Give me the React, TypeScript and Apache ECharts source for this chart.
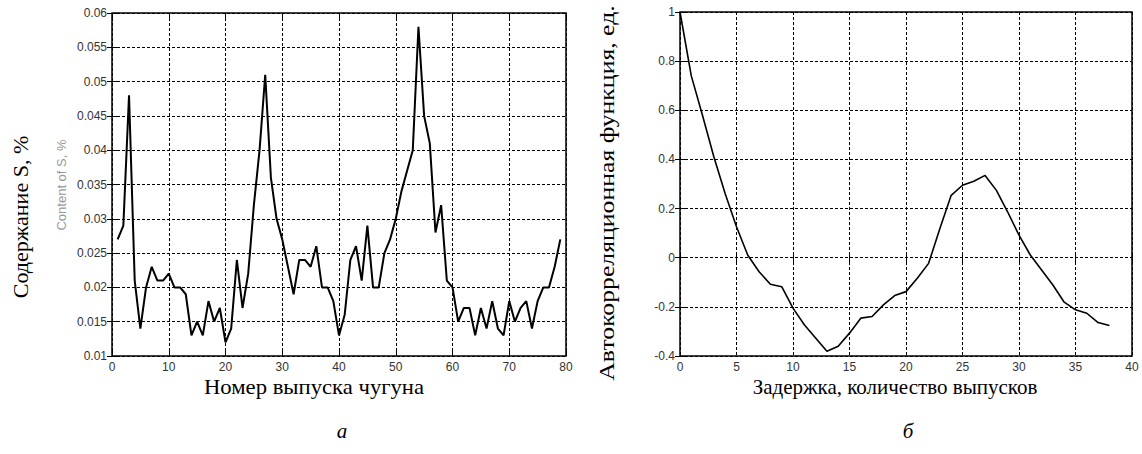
import React, { useEffect, useRef } from "react";
import * as echarts from "echarts";

// Left panel: sulfur content per hot-metal tap (taps 1..79)
const sulfurContent = [
  0.027, 0.029, 0.048, 0.021, 0.014, 0.020, 0.023, 0.021, 0.021, 0.022,
  0.020, 0.020, 0.019, 0.013, 0.015, 0.013, 0.018, 0.015, 0.017, 0.012,
  0.014, 0.024, 0.017, 0.022, 0.032, 0.040, 0.051, 0.036, 0.030, 0.027,
  0.023, 0.019, 0.024, 0.024, 0.023, 0.026, 0.020, 0.020, 0.018, 0.013,
  0.016, 0.024, 0.026, 0.021, 0.029, 0.020, 0.020, 0.025, 0.027, 0.030,
  0.034, 0.037, 0.040, 0.058, 0.045, 0.041, 0.028, 0.032, 0.021, 0.020,
  0.015, 0.017, 0.017, 0.013, 0.017, 0.014, 0.018, 0.014, 0.013, 0.018,
  0.015, 0.017, 0.018, 0.014, 0.018, 0.020, 0.020, 0.023, 0.027,
];

// Right panel: autocorrelation function for lags 0..38
const autocorrelation = [
  1.0, 0.74, 0.578, 0.41, 0.26, 0.126, 0.01, -0.057, -0.108, -0.118,
  -0.205, -0.273, -0.327, -0.381, -0.36, -0.307, -0.246, -0.239, -0.192, -0.154,
  -0.138, -0.084, -0.023, 0.119, 0.254, 0.295, 0.311, 0.335, 0.274, 0.186,
  0.092, 0.011, -0.05, -0.111, -0.181, -0.212, -0.226, -0.264, -0.276,
];

const leftYLabel = "Содержание S, %";
const leftXLabel = "Номер выпуска чугуна";
const rightYLabel = "Автокорреляционная функция, ед.";
const rightXLabel = "Задержка, количество выпусков";
const leftMark = "а";
const rightMark = "б";
const ghostLabel = "Content of S, %";

const tickFont = "Liberation Sans";
const serifFont = "Liberation Serif";

function fmt(v: number) {
  return String(Number(v.toFixed(3)));
}

export default function App() {
  const ref = useRef<HTMLDivElement>(null);

  useEffect(() => {
    document.body.style.margin = "0";
    const chart = echarts.init(ref.current!, null, { renderer: "svg" });

    const gridStyle = {
      show: true,
      borderColor: "#000",
      borderWidth: 1.5,
      backgroundColor: "#fff",
    };
    const split = { show: true, lineStyle: { color: "#000", width: 1, type: [3, 2] as any } };
    const tickIn = { show: true, inside: true, length: 5, lineStyle: { color: "#000", width: 1 } };
    const lbl = { color: "#333", fontSize: 12, fontFamily: tickFont };

    const mainX = (gi: number, max: number, interval: number) => ({
      type: "value" as const,
      gridIndex: gi,
      min: 0,
      max,
      interval,
      axisLine: { show: false },
      axisTick: tickIn,
      axisLabel: { ...lbl, margin: 5 },
      splitLine: split,
    });
    const topX = (gi: number, max: number, interval: number) => ({
      type: "value" as const,
      gridIndex: gi,
      position: "top" as const,
      min: 0,
      max,
      interval,
      axisLine: { show: false },
      axisTick: tickIn,
      axisLabel: { show: false },
      splitLine: { show: false },
    });
    const mainY = (gi: number, min: number, max: number, interval: number) => ({
      type: "value" as const,
      gridIndex: gi,
      min,
      max,
      interval,
      axisLine: { show: false },
      axisTick: tickIn,
      axisLabel: { ...lbl, margin: 5, formatter: (v: number) => fmt(v) },
      splitLine: split,
    });
    const rightY = (gi: number, min: number, max: number, interval: number) => ({
      type: "value" as const,
      gridIndex: gi,
      position: "right" as const,
      min,
      max,
      interval,
      axisLine: { show: false },
      axisTick: tickIn,
      axisLabel: { show: false },
      splitLine: { show: false },
    });

    const serif = (size: number, italic = false) => ({
      fontSize: size,
      fontFamily: serifFont,
      fontStyle: italic ? "italic" : "normal",
      fill: "#000",
      align: "center",
      verticalAlign: "middle",
    });

    chart.setOption({
      animation: false,
      backgroundColor: "#fff",
      grid: [
        { left: 112, top: 13, width: 454, height: 343, ...gridStyle },
        { left: 680, top: 12, width: 452, height: 344, ...gridStyle },
      ],
      xAxis: [
        mainX(0, 80, 10),
        mainX(1, 40, 5),
        topX(0, 80, 10),
        topX(1, 40, 5),
      ],
      yAxis: [
        mainY(0, 0.01, 0.06, 0.005),
        mainY(1, -0.4, 1, 0.2),
        rightY(0, 0.01, 0.06, 0.005),
        rightY(1, -0.4, 1, 0.2),
      ],
      series: [
        {
          type: "line",
          xAxisIndex: 0,
          yAxisIndex: 0,
          data: sulfurContent.map((v, i) => [i + 1, v]),
          showSymbol: false,
          lineStyle: { color: "#000", width: 2 },
          z: 5,
        },
        {
          type: "line",
          xAxisIndex: 1,
          yAxisIndex: 1,
          data: autocorrelation.map((v, i) => [i, v]),
          showSymbol: false,
          lineStyle: { color: "#000", width: 1.6 },
          z: 5,
        },
      ],
      graphic: [
        {
          type: "text",
          x: 21,
          y: 217,
          rotation: Math.PI / 2,
          scaleX: 1.05,
          style: { text: leftYLabel, ...serif(21) },
        },
        {
          type: "text",
          x: 61,
          y: 185,
          rotation: Math.PI / 2,
          style: {
            text: ghostLabel,
            fontSize: 13,
            fontFamily: tickFont,
            fill: "#999",
            align: "center",
            verticalAlign: "middle",
          },
        },
        {
          type: "text",
          x: 607,
          y: 193,
          rotation: Math.PI / 2,
          scaleX: 1.17,
          style: { text: rightYLabel, ...serif(22) },
        },
        {
          type: "text",
          x: 314,
          y: 387,
          scaleX: 1.08,
          style: { text: leftXLabel, ...serif(21) },
        },
        {
          type: "text",
          x: 895,
          y: 387,
          style: { text: rightXLabel, ...serif(21) },
        },
        {
          type: "text",
          x: 342,
          y: 431,
          style: { text: leftMark, ...serif(21, true) },
        },
        {
          type: "text",
          x: 908,
          y: 431,
          style: { text: rightMark, ...serif(21, true) },
        },
      ],
    });

    return () => chart.dispose();
  }, []);

  return (
    <div
      ref={ref}
      style={{ position: "absolute", left: 0, top: 0, width: 1142, height: 454 }}
    />
  );
}
